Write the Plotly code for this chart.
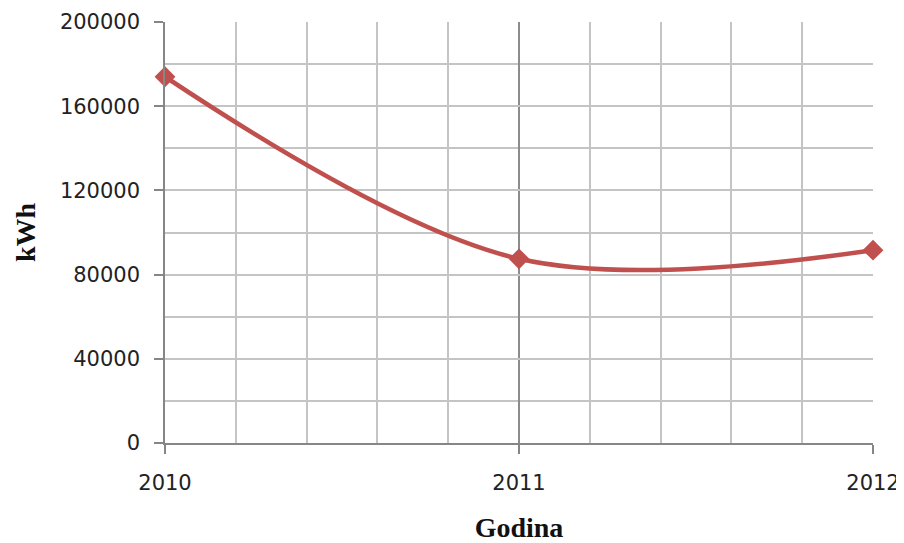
import plotly.graph_objects as go

years = [2010, 2011, 2012]
kwh = [174000, 87500, 91600]
y_ticks = [0, 40000, 80000, 120000, 160000, 200000]
x_ticks = [2010, 2011, 2012]

fig = go.Figure()
fig.add_trace(go.Scatter(
    x=years, y=kwh, mode="lines+markers",
    line=dict(color="#C0504D", width=4.5, shape="spline", smoothing=1.0),
    marker=dict(symbol="diamond", size=16, color="#C0504D"),
    cliponaxis=False, showlegend=False,
))

fig.update_layout(
    width=896, height=535,
    margin=dict(l=157, r=31, t=14, b=100),
    paper_bgcolor="white", plot_bgcolor="white",
    font=dict(family="DejaVu Sans", size=21, color="#222"),
    xaxis=dict(
        range=[2010, 2012], tickvals=x_ticks, ticktext=[str(v) for v in x_ticks],
        automargin=False,
        showgrid=True, gridcolor="#8C8C8C", gridwidth=1.5,
        minor=dict(dtick=0.2, tick0=2010, showgrid=True, gridcolor="#C4C4C4", gridwidth=1.5),
        showline=True, linecolor="#868686", linewidth=1.5,
        ticks="outside", ticklen=9, tickcolor="#868686", tickwidth=1.5,
        ticklabelstandoff=11, zeroline=False,
        title=dict(text="<b>Godina</b>", font=dict(family="Liberation Serif", size=28, color="#111"), standoff=36),
    ),
    yaxis=dict(
        range=[0, 200000], tickvals=y_ticks, ticktext=[str(v) for v in y_ticks],
        automargin=False,
        showgrid=True, gridcolor="#C4C4C4", gridwidth=1.5,
        minor=dict(dtick=20000, showgrid=True, gridcolor="#C4C4C4", gridwidth=1.5),
        showline=True, linecolor="#868686", linewidth=1.5,
        ticks="outside", ticklen=9, tickcolor="#868686", tickwidth=1.5,
        ticklabelstandoff=10, zeroline=False,
        title=dict(text="<b>kWh</b>", font=dict(family="Liberation Serif", size=28, color="#111"), standoff=16),
    ),
)

fig.write_html("out.html")
